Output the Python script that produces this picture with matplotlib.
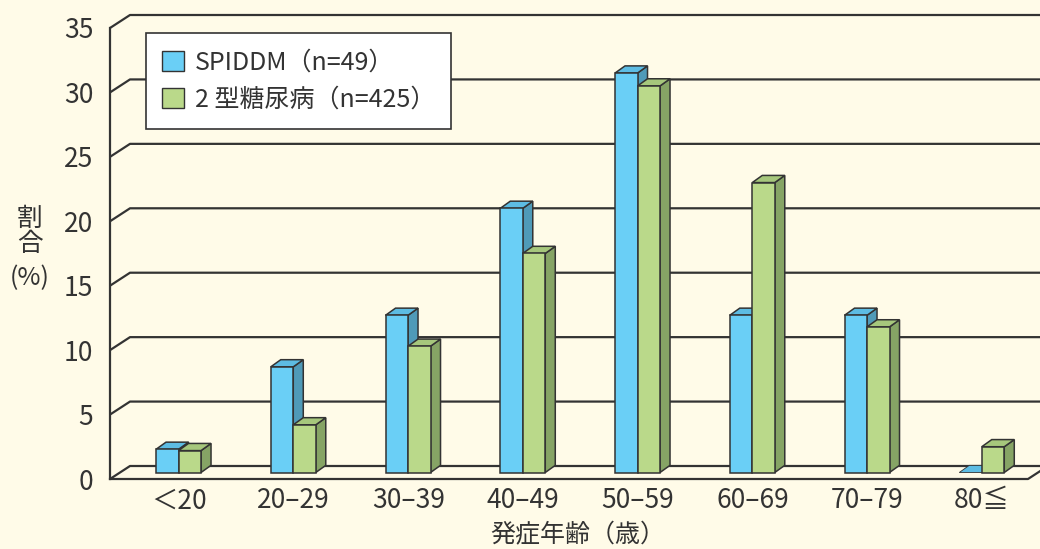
import matplotlib
matplotlib.use("Agg")
import matplotlib.pyplot as plt
from matplotlib.patches import Polygon, Patch
import numpy as np

plt.rcParams['font.family'] = ['Noto Sans CJK JP', 'DejaVu Sans']

categories = ["＜20", "20–29", "30–39", "40–49", "50–59", "60–69", "70–79", "80≦"]
spiddm = [1.8, 8.2, 12.2, 20.5, 31.0, 12.2, 12.2, 0.0]
type2 = [1.7, 3.7, 9.8, 17.0, 30.0, 22.5, 11.3, 2.0]
series_labels = ["SPIDDM（n=49）", "2 型糖尿病（n=425）"]
yticks = [0, 5, 10, 15, 20, 25, 30, 35]
xlabel = "発症年齢（歳）"

W, H = 1040, 549
BG = "#FFFBE8"
LINE = "#333333"
blue = dict(front="#6ACFF6", top="#5DBCE3", side="#4F9AB8")
green = dict(front="#BAD98A", top="#A6C77C", side="#86A465")

fig = plt.figure(figsize=(W / 100, H / 100), dpi=100, facecolor=BG)
ax_left, ax_right, ax_bot, ax_top = 110, 1028, 479, 28
ax = fig.add_axes([ax_left / W, 1 - ax_bot / H, (ax_right - ax_left) / W, (ax_bot - ax_top) / H])
ax.set_facecolor("none")
n = len(categories)
ax.set_xlim(0, n)
ax.set_ylim(0, 35)
for s in ax.spines.values():
    s.set_visible(False)

px_x = (ax_right - ax_left) / n
px_y = (ax_bot - ax_top) / 35.0
DX = 20 / px_x   # wall depth in x units
DY = 13 / px_y   # wall depth in y units

# walls / grid
xr = n + DX + 0.5
for v in yticks:
    ax.plot([0, DX, xr], [v, v + DY, v + DY], color=LINE, lw=1.6, clip_on=False, zorder=1, solid_capstyle='butt')
ax.plot([0, 0], [0, 35], color=LINE, lw=1.6, clip_on=False, zorder=1)
ax.plot([0, n, n + DX], [0, 0, DY], color=LINE, lw=1.6, clip_on=False, zorder=1)

# bars
bw = 22.5 / px_x
f = 0.5
ox, oy = f * DX, f * DY
bdx, bdy = 0.5 * DX, 0.55 * DY


def bar3d(x0, h, c, z):
    x1 = x0 + bw
    y0, y1 = oy, oy + h
    fx0, fx1 = x0 + ox, x1 + ox
    front = Polygon([(fx0, y0), (fx1, y0), (fx1, y1), (fx0, y1)], closed=True)
    top = Polygon([(fx0, y1), (fx1, y1), (fx1 + bdx, y1 + bdy), (fx0 + bdx, y1 + bdy)], closed=True)
    side = Polygon([(fx1, y0), (fx1 + bdx, y0 + bdy), (fx1 + bdx, y1 + bdy), (fx1, y1)], closed=True)
    for p, col in ((side, c["side"]), (top, c["top"]), (front, c["front"])):
        p.set_facecolor(col)
        p.set_edgecolor(LINE)
        p.set_linewidth(1.1)
        p.set_joinstyle('miter')
        p.set_zorder(z)
        p.set_clip_on(False)
        ax.add_patch(p)


for i in range(n):
    c = i + 0.51
    if spiddm[i] > 0:
        bar3d(c - bw, spiddm[i], blue, 3 + i * 2)
    else:
        x0 = c - bw + ox
        ax.add_patch(Polygon([(x0, oy), (x0 + bw, oy), (x0 + bw + bdx, oy + bdy), (x0 + bdx, oy + bdy)],
                             closed=True, facecolor=blue["top"], edgecolor=LINE, lw=0.6, zorder=3 + i * 2,
                             clip_on=False))
    bar3d(c, type2[i], green, 4 + i * 2)

# ticks
ax.set_yticks(yticks)
ax.set_yticklabels([str(v) for v in yticks], fontsize=19, color=LINE)
ax.tick_params(axis='y', length=0, pad=12)
ax.set_xticks([i + 0.6 for i in range(n)])
ax.set_xticklabels(categories, fontsize=19, color=LINE)
ax.tick_params(axis='x', length=0, pad=6)

# axis labels
fig.text(30 / W, 1 - 219 / H, "割", fontsize=18.5, ha='center', va='center', color=LINE)
fig.text(30 / W, 1 - 244 / H, "合", fontsize=18.5, ha='center', va='center', color=LINE)
fig.text(30 / W, 1 - 278 / H, "(%)", fontsize=18, ha='center', va='center', color=LINE)
fig.text(578 / W, 1 - 535 / H, xlabel, fontsize=18, ha='center', va='center', color=LINE)

# legend
handles = [Patch(facecolor=blue["front"], edgecolor=LINE, lw=1.0),
           Patch(facecolor=green["front"], edgecolor=LINE, lw=1.0)]
leg = fig.legend(handles, series_labels, loc='upper left',
                 bbox_to_anchor=(146 / W, 1 - 33 / H), borderaxespad=0,
                 fontsize=18, frameon=True, fancybox=False, framealpha=1,
                 edgecolor=LINE, facecolor='white', handlelength=0.85, handleheight=0.85,
                 handletextpad=0.45, borderpad=0.65, labelspacing=0.45)
leg.get_frame().set_linewidth(1.2)
for t in leg.get_texts():
    t.set_color(LINE)
leg.set_zorder(50)

fig.savefig("out.png", dpi=100, facecolor=BG)
